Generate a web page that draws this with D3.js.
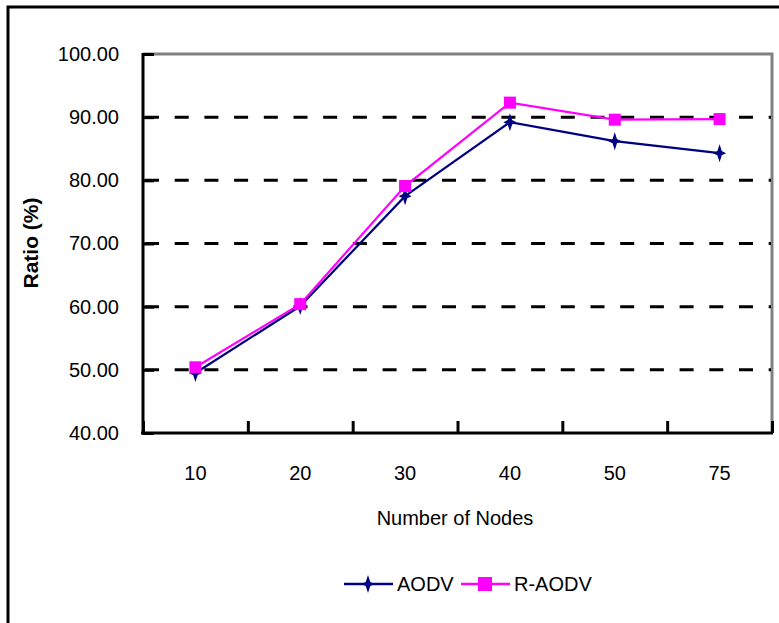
<!DOCTYPE html>
<html>
<head>
<meta charset="utf-8">
<script src="https://cdn.jsdelivr.net/npm/d3@7"></script>
<style>
  body { margin: 0; background: #fff; }
  svg text { font-family: "Liberation Sans", Arial, sans-serif; fill: #000; }
</style>
</head>
<body>
<script>
// chart values
var categories = ["10", "20", "30", "40", "50", "75"];
var aodv = [49.5, 60.1, 77.5, 89.2, 86.2, 84.3];
var raodv = [50.4, 60.4, 79.1, 92.3, 89.6, 89.7];
var yTicks = [40, 50, 60, 70, 80, 90, 100];
var gridValues = [50, 60, 70, 80, 90];
var seriesNames = ["AODV", "R-AODV"];
var seriesColors = ["#000080", "#ff00ff"];

var width = 779, height = 623;
// plot box (note: "top" is reserved on window, so use plotTop)
var plotLeft = 143, plotRight = 772, plotTop = 54, plotBottom = 433;

var svg = d3.select("body").append("svg")
    .attr("width", width)
    .attr("height", height);

// outer frame (cropped on right/bottom)
svg.append("rect")
    .attr("x", 8).attr("y", 7)
    .attr("width", width + 20).attr("height", height + 20)
    .attr("fill", "none")
    .attr("stroke", "#000")
    .attr("stroke-width", 3);

var x = d3.scaleBand().domain(categories).range([plotLeft, plotRight]);
var xEdge = d3.scaleLinear().domain([0, categories.length]).range([plotLeft, plotRight]);
var y = d3.scaleLinear().domain([40, 100]).range([plotBottom, plotTop]);

// plot border top/right in grey
svg.append("path")
    .attr("d", "M" + plotLeft + "," + y(100) + "H" + plotRight + "V" + plotBottom)
    .attr("fill", "none")
    .attr("stroke", "#808080")
    .attr("stroke-width", 3);

// dashed grid
svg.append("g").selectAll("line")
    .data(gridValues)
    .enter().append("line")
    .attr("x1", plotLeft + 2).attr("x2", plotRight - 1)
    .attr("y1", function(d) { return y(d); })
    .attr("y2", function(d) { return y(d); })
    .attr("stroke", "#000")
    .attr("stroke-width", 3)
    .attr("stroke-dasharray", "14,15.7");

// y axis
var yAxis = svg.append("g")
    .attr("transform", "translate(" + plotLeft + ",0)")
    .call(d3.axisLeft(y).tickValues(yTicks).tickSize(-11).tickPadding(24)
      .tickFormat(d3.format(".2f")));
yAxis.select(".domain").attr("stroke-width", 3).attr("d", "M0," + (plotTop - 1) + "V" + (plotBottom + 1.5));
yAxis.selectAll(".tick line").attr("stroke-width", 3);
yAxis.selectAll("text").style("font-size", "20px");

// x axis: labels at band centres
var xAxis = svg.append("g")
    .attr("transform", "translate(0," + plotBottom + ")")
    .call(d3.axisBottom(x).tickSize(0).tickPadding(33));
xAxis.select(".domain").remove();
xAxis.selectAll("text").style("font-size", "20px");

// x axis: ticks at band edges, pointing up
var xTickAxis = svg.append("g")
    .attr("transform", "translate(0," + plotBottom + ")")
    .call(d3.axisBottom(xEdge).ticks(categories.length).tickSize(-12).tickFormat(""));
xTickAxis.select(".domain").attr("stroke-width", 3).attr("d", "M" + (plotLeft - 2) + ",0H" + (plotRight + 1));
xTickAxis.selectAll(".tick line").attr("stroke-width", 3);

// axis titles
svg.append("text")
    .attr("transform", "translate(30,243) rotate(-90)")
    .attr("text-anchor", "middle")
    .attr("dominant-baseline", "central")
    .style("font-size", "21px")
    .style("font-weight", "bold")
    .text("Ratio (%)");

svg.append("text")
    .attr("x", 455).attr("y", 518)
    .attr("text-anchor", "middle")
    .attr("dominant-baseline", "central")
    .style("font-size", "20px")
    .text("Number of Nodes");

// 4-point star marker for AODV
function starPath(rx, ry, ri) {
  var p = d3.path();
  p.moveTo(0, -ry);
  p.lineTo(ri, -ri);
  p.lineTo(rx, 0);
  p.lineTo(ri, ri);
  p.lineTo(0, ry);
  p.lineTo(-ri, ri);
  p.lineTo(-rx, 0);
  p.lineTo(-ri, -ri);
  p.closePath();
  return p.toString();
}

var line = d3.line()
    .x(function(d, i) { return x(categories[i]) + x.bandwidth() / 2; })
    .y(function(d) { return y(d); });

function drawSeries(values, color, marker) {
  var g = svg.append("g");
  g.append("path")
      .datum(values)
      .attr("d", line)
      .attr("fill", "none")
      .attr("stroke", color)
      .attr("stroke-width", 2.2);
  var m = g.selectAll(".mk")
      .data(values)
      .enter();
  if (marker === "star") {
    m.append("path")
      .attr("d", starPath(6.5, 9, 2.2))
      .attr("transform", function(d, i) {
        return "translate(" + (x(categories[i]) + x.bandwidth() / 2) + "," + y(d) + ")";
      })
      .attr("fill", color);
  } else {
    m.append("rect")
      .attr("x", function(d, i) { return x(categories[i]) + x.bandwidth() / 2 - 6; })
      .attr("y", function(d) { return y(d) - 6; })
      .attr("width", 12).attr("height", 12)
      .attr("fill", color);
  }
}

drawSeries(aodv, seriesColors[0], "star");
drawSeries(raodv, seriesColors[1], "square");

// legend
var legendY = 584;
var legendX = [344, 461];
var legend = svg.append("g");
seriesNames.forEach(function(name, i) {
  var lx = legendX[i];
  legend.append("line")
      .attr("x1", lx).attr("x2", lx + 49)
      .attr("y1", legendY).attr("y2", legendY)
      .attr("stroke", seriesColors[i])
      .attr("stroke-width", 2.5);
  if (i === 0) {
    legend.append("path")
        .attr("d", starPath(6, 9, 2.2))
        .attr("transform", "translate(" + (lx + 24) + "," + legendY + ")")
        .attr("fill", seriesColors[i]);
  } else {
    legend.append("rect")
        .attr("x", lx + 17).attr("y", legendY - 7)
        .attr("width", 14).attr("height", 14)
        .attr("fill", seriesColors[i]);
  }
  legend.append("text")
      .attr("x", lx + 53).attr("y", legendY)
      .attr("dominant-baseline", "central")
      .style("font-size", "20px")
      .text(name);
});
</script>
</body>
</html>
